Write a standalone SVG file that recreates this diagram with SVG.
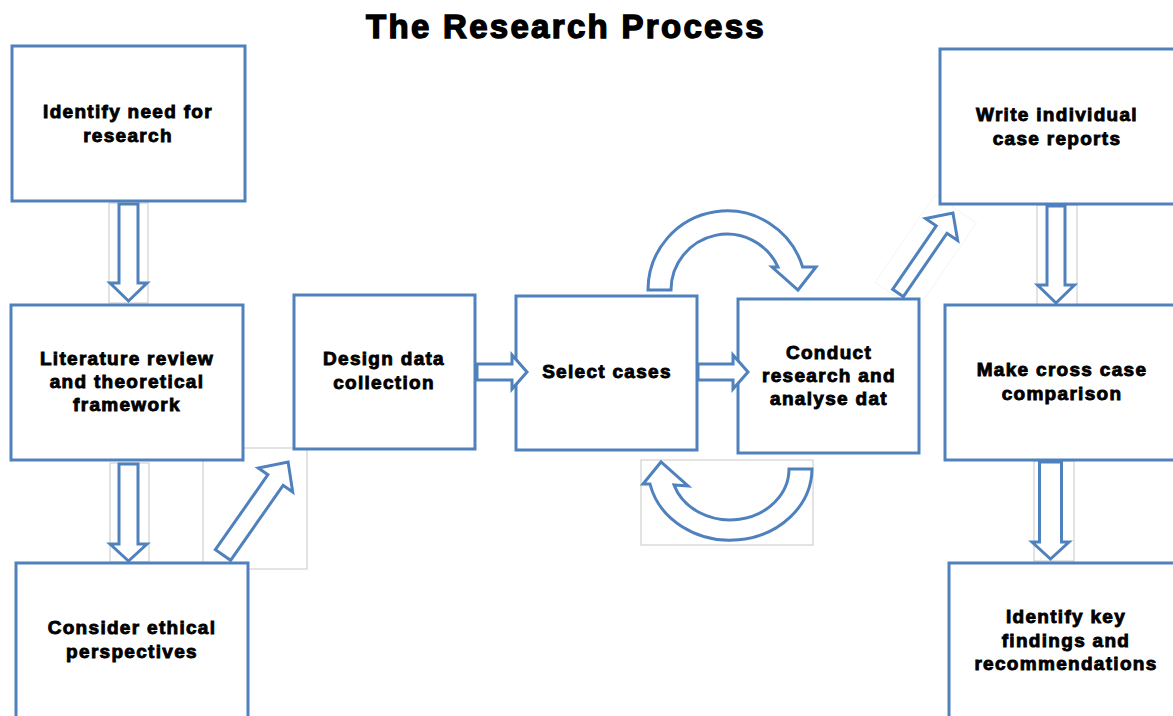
<svg xmlns="http://www.w3.org/2000/svg" width="1173" height="716" viewBox="0 0 1173 716">
<style>
.box{fill:#fff;stroke:#4F81BD;stroke-width:3}
.arr{fill:#fff;stroke:#4F81BD;stroke-width:3;stroke-linejoin:miter}
.frm{fill:none;stroke:#c8c8c8;stroke-width:1}
.t{font-family:"Liberation Sans",Arial,sans-serif;font-weight:bold;font-size:19px;letter-spacing:1.3px;text-anchor:middle;fill:#000;stroke:#000;stroke-width:0.9}
.title{font-family:"Liberation Sans",Arial,sans-serif;font-weight:bold;font-size:33px;letter-spacing:2.3px;text-anchor:middle;fill:#000;stroke:#000;stroke-width:1.4}
</style>
<rect width="1173" height="716" fill="#fff"/>
<text class="title" x="566" y="38">The Research Process</text>

<g id="frames">
<rect class="frm" x="109" y="203" width="39" height="100"/>
<rect class="frm" x="110" y="463" width="39" height="99"/>
<rect class="frm" x="203" y="448" width="104" height="121"/>
<rect class="frm" x="641" y="460" width="172" height="85"/>
<rect class="frm" x="1037" y="205" width="40" height="100"/>
<rect class="frm" x="1034" y="461" width="40" height="100"/>
<rect x="-4" y="-25" width="106" height="50" fill="none" stroke="#dedede" stroke-width="0.6" stroke-dasharray="1,1" transform="translate(898,293) rotate(-55.5)"/>
</g>

<g id="n1"><rect class="box" x="12" y="46" width="233" height="155"/>
<text class="t" x="128" y="118">Identify need for</text><text class="t" x="128" y="142">research</text></g>
<g id="n2"><rect class="box" x="11" y="305" width="232" height="155"/>
<text class="t" x="127" y="365">Literature review</text><text class="t" x="127" y="388">and theoretical</text><text class="t" x="127" y="411">framework</text></g>
<g id="n3"><rect class="box" x="16" y="563" width="232" height="160"/>
<text class="t" x="132" y="634">Consider ethical</text><text class="t" x="132" y="658">perspectives</text></g>
<g id="n4"><rect class="box" x="294" y="295" width="181" height="154"/>
<text class="t" x="384" y="365">Design data</text><text class="t" x="384" y="389">collection</text></g>
<g id="n5"><rect class="box" x="516" y="296" width="181" height="154"/>
<text class="t" x="607" y="378">Select cases</text></g>
<g id="n6"><rect class="box" x="738" y="299" width="181" height="154"/>
<text class="t" x="829" y="359">Conduct</text><text class="t" x="829" y="382">research and</text><text class="t" x="829" y="405">analyse dat</text></g>
<g id="n7"><rect class="box" x="940" y="49" width="240" height="155"/>
<text class="t" x="1057" y="121">Write individual</text><text class="t" x="1057" y="145">case reports</text></g>
<g id="n8"><rect class="box" x="945" y="305" width="240" height="155"/>
<text class="t" x="1062" y="376">Make cross case</text><text class="t" x="1062" y="400">comparison</text></g>
<g id="n9"><rect class="box" x="949" y="563" width="240" height="160"/>
<text class="t" x="1066" y="623">Identify key</text><text class="t" x="1066" y="647">findings and</text><text class="t" x="1066" y="670">recommendations</text></g>

<g id="connectors">
<polygon class="arr" points="0,-9.5 79,-9.5 79,-18.5 97,0 79,18.5 79,9.5 0,9.5" transform="translate(128.5,204) rotate(90)"/>
<polygon class="arr" points="0,-9.5 80,-9.5 80,-18.5 97,0 80,18.5 80,9.5 0,9.5" transform="translate(128.5,464) rotate(90)"/>
<polygon class="arr" points="0,-9.3 91.5,-9.3 91.5,-21 113.5,0 91.5,21 91.5,9.3 0,9.3" transform="translate(223,555) rotate(-55)"/>
<polygon class="arr" points="0,-8 35,-8 35,-17 50,0 35,17 35,8 0,8" transform="translate(477,372)"/>
<polygon class="arr" points="0,-8 35,-8 35,-17 50,0 35,17 35,8 0,8" transform="translate(698,372)"/>
<polygon class="arr" points="0,-6.5 77,-6.5 77,-19.5 97,0 77,19.5 77,6.5 0,6.5" transform="translate(898,293) rotate(-55.5)"/>
<polygon class="arr" points="0,-9 79,-9 79,-18.5 97,0 79,18.5 79,9 0,9" transform="translate(1056,206) rotate(90)"/>
<polygon class="arr" points="0,-11 80,-11 80,-18.5 97,0 80,18.5 80,11 0,11" transform="translate(1050.5,462) rotate(90)"/>
<path class="arr" d="M648,290 A79,79 0 0 1 802.6,267 L816,267 L798,290 L772,267 L778,267 A56,56 0 0 0 671,290 Z"/>
<path class="arr" d="M812,469 A82,72 0 0 1 650,484 L643,484 L661,462 L688,486 L674,485 A59,51 0 0 0 789,469 Z"/>
</g>
</svg>
